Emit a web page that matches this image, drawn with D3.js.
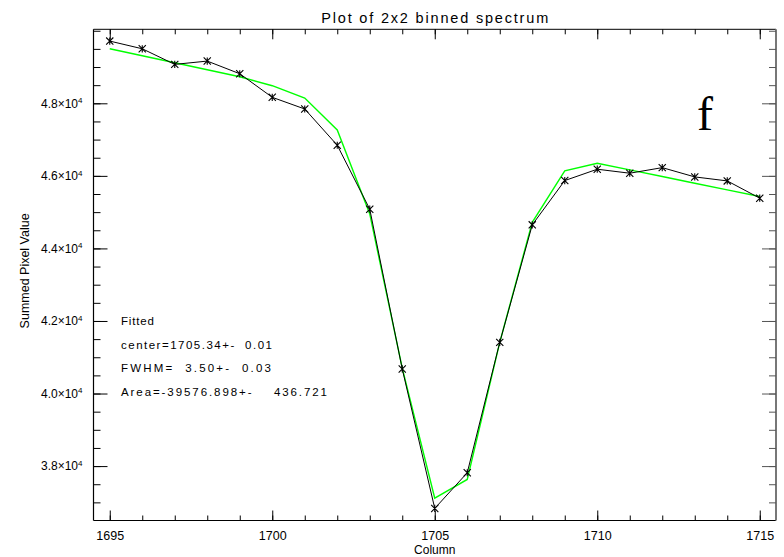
<!DOCTYPE html>
<html>
<head>
<meta charset="utf-8">
<script src="https://cdn.jsdelivr.net/npm/d3@7"></script>
<style>
  body { margin: 0; background: #fff; }
  svg { display: block; }
  text { font-family: "Liberation Sans", "DejaVu Sans", sans-serif; fill: #000; }
  text.letter { font-family: "Liberation Serif", "DejaVu Serif", serif; }
</style>
</head>
<body>
<svg id="chart" width="784" height="557"></svg>
<script>
// Column numbers of the binned spectrum
const columns = [1695, 1696, 1697, 1698, 1699, 1700, 1701, 1702, 1703, 1704, 1705,
                 1706, 1707, 1708, 1709, 1710, 1711, 1712, 1713, 1714, 1715];
// Summed pixel values (measured)
const summed = [49715, 49503, 49073, 49164, 48815, 48165, 47843, 46844, 45082, 40678, 36833,
                37816, 41410, 44650, 45870, 46183, 46073, 46227, 45971, 45861, 45385];
// Gaussian + linear continuum fit evaluated at each column
const fitted = [49503, 49310, 49118, 48925, 48732, 48485, 48146, 47265, 44950, 40700, 37115,
                37631, 41410, 44720, 46137, 46349, 46165, 45981, 45798, 45614, 45430];

const xMajor = [1695, 1700, 1705, 1710, 1715];
const xMinor = d3.range(1695, 1716, 1);
const yMajor = [38000, 40000, 42000, 44000, 46000, 48000];
const yMinor = d3.range(37000, 50001, 500);

const fitText = [
  "Fitted",
  "center=1705.34+-  0.01",
  "FWHM=  3.50+-  0.03",
  "Area=-39576.898+-    436.721"
];

const titleText = "Plot of 2x2 binned spectrum";
const xTitle = "Column";
const yTitle = "Summed Pixel Value";
const panelLetter = "f";

const plotL = 93.5, plotR = 776, plotT = 29.3, plotB = 520.5;

const svg = d3.select("#chart");

const x = d3.scaleLinear().domain([1694.5, 1715.5]).range([plotL, plotR]);
const y = d3.scaleLinear().domain([36500, 50040]).range([plotB, plotT]);

// Frame
svg.append("line").attr("x1", plotL).attr("x2", plotR).attr("y1", plotT).attr("y2", plotT)
  .attr("stroke", "#000").attr("stroke-width", 1);
svg.append("line").attr("x1", plotL).attr("x2", plotR).attr("y1", plotB).attr("y2", plotB)
  .attr("stroke", "#000").attr("stroke-width", 1.2);
svg.append("line").attr("x1", plotL).attr("x2", plotL).attr("y1", plotT).attr("y2", plotB)
  .attr("stroke", "#000").attr("stroke-width", 1.2);
svg.append("line").attr("x1", plotR).attr("x2", plotR).attr("y1", plotT).attr("y2", plotB)
  .attr("stroke", "#777").attr("stroke-width", 2);

function styleAxis(g, color) {
  g.select(".domain").remove();
  g.selectAll(".tick line").attr("stroke", color || "#000").attr("stroke-width", 1);
}

// Bottom axis (inward ticks)
const gb = svg.append("g").attr("transform", `translate(0,${plotB})`)
  .call(d3.axisBottom(x).tickValues(xMinor).tickSize(-5).tickFormat(""));
styleAxis(gb);
const gbM = svg.append("g").attr("transform", `translate(0,${plotB})`)
  .call(d3.axisBottom(x).tickValues(xMajor).tickSize(-10).tickPadding(11).tickFormat(d3.format("d")));
styleAxis(gbM);
gbM.selectAll("text").attr("font-size", 12.5).attr("fill", "#000");

// Top axis (inward ticks)
const gt = svg.append("g").attr("transform", `translate(0,${plotT})`)
  .call(d3.axisTop(x).tickValues(xMinor).tickSize(-5).tickFormat(""));
styleAxis(gt);
const gtM = svg.append("g").attr("transform", `translate(0,${plotT})`)
  .call(d3.axisTop(x).tickValues(xMajor).tickSize(-10).tickFormat(""));
styleAxis(gtM);

// Left axis
const gl = svg.append("g").attr("transform", `translate(${plotL},0)`)
  .call(d3.axisLeft(y).tickValues(yMinor).tickSize(-7).tickFormat(""));
styleAxis(gl);
const glM = svg.append("g").attr("transform", `translate(${plotL},0)`)
  .call(d3.axisLeft(y).tickValues(yMajor).tickSize(-14).tickPadding(11).tickFormat(""));
styleAxis(glM);
glM.selectAll(".tick text").each(function(d) {
  const t = d3.select(this).attr("font-size", 12).attr("fill", "#000").attr("dy", "0.32em");
  t.append("tspan").text((d / 10000).toFixed(1) + "\u00d710");
  t.append("tspan").text("4").attr("font-size", 8).attr("dy", "-0.55em");
});

// Right axis
const gr = svg.append("g").attr("transform", `translate(${plotR},0)`)
  .call(d3.axisRight(y).tickValues(yMinor).tickSize(-7).tickFormat(""));
styleAxis(gr, "#555");
const grM = svg.append("g").attr("transform", `translate(${plotR},0)`)
  .call(d3.axisRight(y).tickValues(yMajor).tickSize(-14).tickFormat(""));
styleAxis(grM, "#555");

// Title and axis titles
svg.append("text").attr("x", (plotL + plotR) / 2).attr("y", 22.5)
  .attr("text-anchor", "middle").attr("font-size", 14.5)
  .attr("textLength", 227).attr("lengthAdjust", "spacing")
  .text(titleText);

svg.append("text").attr("x", (plotL + plotR) / 2).attr("y", 554)
  .attr("text-anchor", "middle").attr("font-size", 12)
  .text(xTitle);

svg.append("text")
  .attr("transform", `translate(29,${(plotT + plotB) / 2 - 4}) rotate(-90)`)
  .attr("text-anchor", "middle").attr("font-size", 12.5)
  .attr("textLength", 115).attr("lengthAdjust", "spacing")
  .text(yTitle);

// Fit and data lines
const line = d3.line().x((d, i) => x(columns[i])).y(d => y(d));

svg.append("path").datum(fitted)
  .attr("d", line).attr("fill", "none")
  .attr("stroke", "#00ff00").attr("stroke-width", 1.4);

svg.append("path").datum(summed)
  .attr("d", line).attr("fill", "none")
  .attr("stroke", "#000").attr("stroke-width", 1);

// Asterisk markers
const r = 3.6;
const markers = svg.append("g").selectAll("g").data(summed).join("g")
  .attr("transform", (d, i) => `translate(${x(columns[i])},${y(d)})`);
markers.append("path")
  .attr("d", `M${-r},${-r}L${r},${r}M${-r},${r}L${r},${-r}M0,${-r}L0,${r}`)
  .attr("stroke", "#000").attr("stroke-width", 1.1).attr("fill", "none");

// Fit results
const lineLengths = [33, 151, 150, 206];
fitText.forEach((s, i) => {
  svg.append("text").attr("x", 121).attr("y", 325 + i * 23.7)
    .attr("font-size", 11.5)
    .style("white-space", "pre")
    .attr("textLength", lineLengths[i]).attr("lengthAdjust", "spacing")
    .text(s);
});

// Panel letter
svg.append("text").attr("class", "letter")
  .attr("x", 705).attr("y", 130)
  .attr("text-anchor", "middle").attr("font-size", 48)
  .text(panelLetter);
</script>
</body>
</html>
